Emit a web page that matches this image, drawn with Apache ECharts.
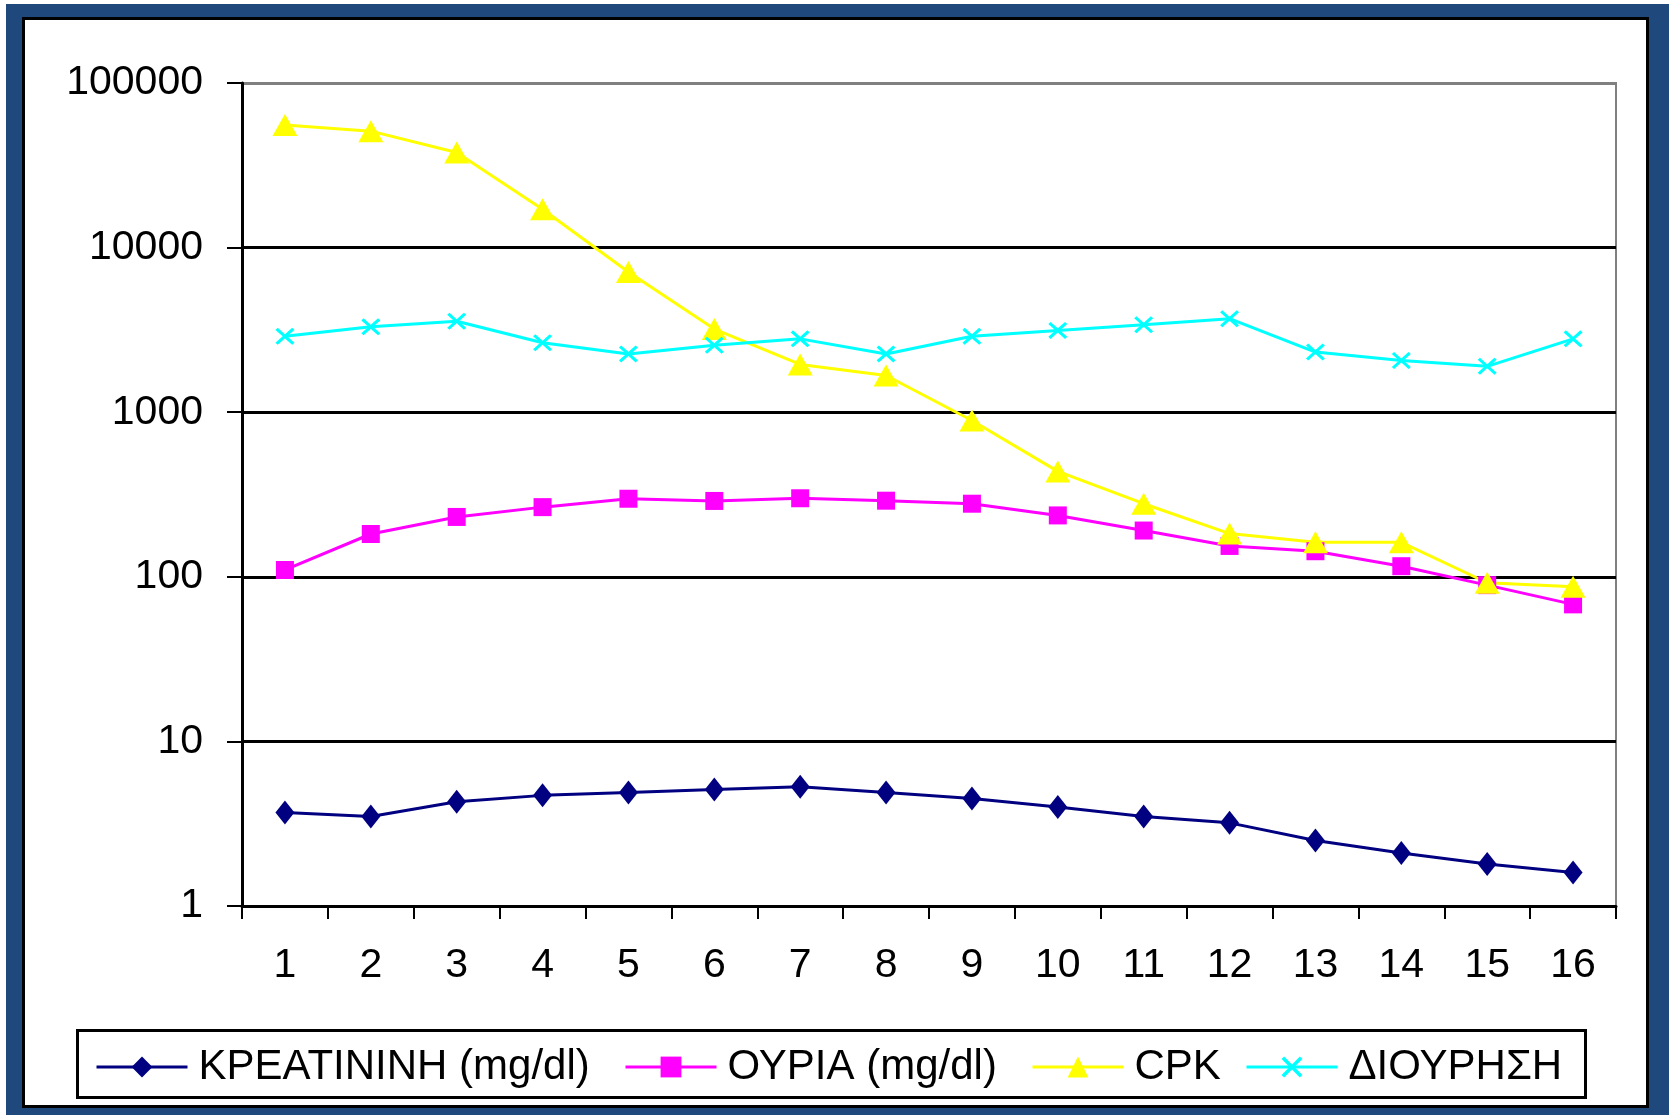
<!DOCTYPE html>
<html>
<head>
<meta charset="utf-8">
<script src="https://cdn.jsdelivr.net/npm/echarts@6/dist/echarts.min.js"></script>
<style>
html,body{margin:0;padding:0;background:#fff;}
#chart{width:1669px;height:1115px;}
</style>
</head>
<body>
<div id="chart"></div>
<script>
const categories = ['1','2','3','4','5','6','7','8','9','10','11','12','13','14','15','16'];
const yTickLabels = ['1','10','100','1000','10000','100000'];
const seriesNames = ['ΚΡΕΑΤΙΝΙΝΗ (mg/dl)', 'ΟΥΡΙΑ (mg/dl)', 'CPK', 'ΔΙΟΥΡΗΣΗ'];
const creatinine = [3.7, 3.5, 4.3, 4.7, 4.9, 5.1, 5.3, 4.9, 4.5, 4.0, 3.5, 3.2, 2.5, 2.1, 1.8, 1.6];
const urea = [110, 182, 231, 265, 298, 289, 300, 290, 278, 236, 191, 154, 143, 116, 89, 68];
const cpk = [55500, 51000, 37800, 17100, 7100, 3200, 1950, 1670, 890, 437, 278, 183, 162, 162, 92, 87];
const diuresis = [2890, 3300, 3570, 2640, 2260, 2550, 2790, 2260, 2890, 3140, 3400, 3700, 2320, 2060, 1900, 2790];

const FONT = 'Liberation Sans, Arial, Helvetica, sans-serif';
const crossPath = 'path://M0,1.2 L1.2,0 L5,3.8 L8.8,0 L10,1.2 L6.2,5 L10,8.8 L8.8,10 L5,6.2 L1.2,10 L0,8.8 L3.8,5 Z';

const chart = echarts.init(document.getElementById('chart'), null, {renderer: 'canvas'});

function mkSeries(name, data, color, symbol, size) {
  return {
    name: name, type: 'line', data: data,
    symbol: symbol, symbolSize: size,
    lineStyle: {color: color, width: 3},
    itemStyle: {color: color, borderWidth: 0},
    emphasis: {disabled: true}
  };
}

const legendLefts = [95, 624, 1031, 1245];
const legends = seriesNames.map((n, i) => ({
  data: [n], left: legendLefts[i], top: 1046, orient: 'horizontal',
  padding: 0, itemWidth: 91, itemHeight: 26,
  lineStyle: {width: 3},
  textStyle: {fontFamily: FONT, fontSize: 42, color: '#000', lineHeight: 42, padding: [0, 0, 0, 6]},
  selectedMode: false
}));

chart.setOption({
  animation: false,
  backgroundColor: 'transparent',
  graphic: [
    {type: 'rect', z: -10, silent: true, shape: {x: 6, y: 4, width: 1663, height: 1111}, style: {fill: '#1F497D'}},
    {type: 'rect', z: -9, silent: true, shape: {x: 23.5, y: 18.5, width: 1624, height: 1088}, style: {fill: '#fff', stroke: '#000', lineWidth: 3}},
    {type: 'rect', z: -8, silent: true, shape: {x: 77.5, y: 1030.5, width: 1508, height: 67}, style: {fill: '#fff', stroke: '#000', lineWidth: 3}}
  ],
  legend: legends,
  grid: {left: 242, top: 83, width: 1374, height: 823, show: true, borderColor: '#808080', borderWidth: 2, backgroundColor: 'transparent'},
  xAxis: {
    type: 'category', data: categories, boundaryGap: true,
    axisLine: {lineStyle: {color: '#000', width: 3}},
    axisTick: {show: true, length: 13, interval: 0, lineStyle: {color: '#000', width: 2}},
    axisLabel: {interval: 0, margin: 39, fontFamily: FONT, fontSize: 41, color: '#000'},
    splitLine: {show: false}
  },
  yAxis: {
    type: 'log', logBase: 10, min: 1, max: 100000,
    axisLine: {show: true, lineStyle: {color: '#000', width: 3}},
    axisTick: {show: true, length: 15, lineStyle: {color: '#000', width: 2}},
    axisLabel: {margin: 39, fontFamily: FONT, fontSize: 41, color: '#000',
      formatter: function (v) { const k = Math.round(Math.log10(v)); return yTickLabels[k] !== undefined ? yTickLabels[k] : ''; }},
    splitLine: {show: true, lineStyle: {color: ['#000', '#000', '#000', '#000', '#000', '#808080'], width: 3}},
    minorTick: {show: false}
  },
  series: [
    mkSeries(seriesNames[0], creatinine, '#000080', 'diamond', [19, 24]),
    mkSeries(seriesNames[1], urea, '#FF00FF', 'rect', 18),
    mkSeries(seriesNames[2], cpk, '#FFFF00', 'triangle', [25, 22]),
    mkSeries(seriesNames[3], diuresis, '#00FFFF', crossPath, [19, 17])
  ]
});
</script>
</body>
</html>
